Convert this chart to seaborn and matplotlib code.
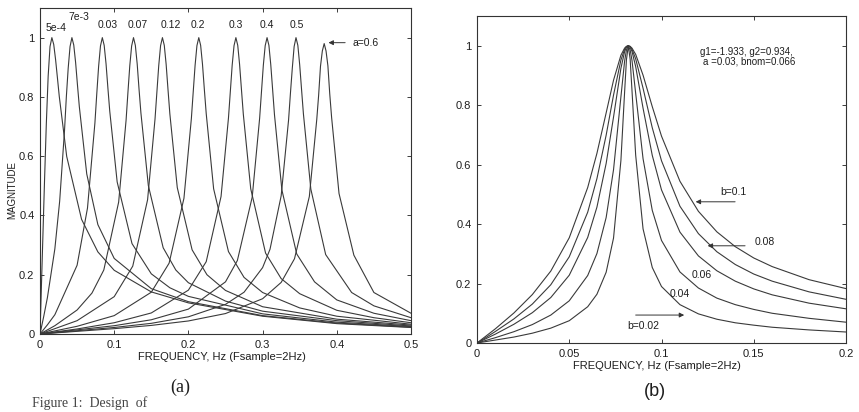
import matplotlib
matplotlib.use("Agg")
import matplotlib.pyplot as plt
import pandas as pd
import seaborn as sns

# ---- panel (a): resonator magnitude for several "a" values
a_labels = ["5e-4", "7e-3", "0.03", "0.07", "0.12", "0.2", "0.3", "0.4", "0.5", "0.6"]
a_freq = [
    [0, .003, .006, .0085, .011, .0135, .016, .0185, .021, .0235, .026, .036, .056, .078, .1, .15, .2, .3, .4, .5],
    [0, .005, .01, .02, .0265, .033, .0355, .038, .0405, .043, .0455, .048, .0505, .053, .063, .078, .1, .15, .2, .3, .4, .5],
    [0, .01, .02, .05, .064, .074, .0765, .079, .0815, .084, .0865, .089, .0915, .094, .104, .124, .15, .175, .2, .3, .4, .5],
    [0, .02, .05, .07, .086, .106, .116, .1185, .121, .1235, .126, .1285, .131, .1335, .136, .146, .166, .183, .2, .25, .3, .4, .5],
    [0, .05, .1, .125, .145, .155, .1575, .16, .1625, .165, .1675, .17, .1725, .175, .185, .205, .225, .25, .3, .4, .5],
    [0, .05, .1, .15, .174, .194, .204, .2065, .209, .2115, .214, .2165, .219, .2215, .224, .234, .254, .275, .3, .35, .4, .5],
    [0, .05, .1, .15, .2, .224, .244, .254, .2565, .259, .2615, .264, .2665, .269, .2715, .274, .284, .304, .325, .35, .4, .45, .5],
    [0, .1, .15, .2, .25, .266, .286, .296, .2985, .301, .3035, .306, .3085, .311, .3135, .316, .326, .346, .37, .4, .45, .5],
    [0, .1, .15, .2, .25, .275, .3, .31, .325, .335, .3375, .34, .3425, .345, .3475, .35, .3525, .355, .365, .385, .42, .45, .5],
    [0, .1, .15, .2, .25, .3, .325, .343, .363, .373, .3755, .378, .3805, .383, .3855, .388, .3905, .393, .403, .423, .45, .5],
]
a_mag = [
    [0, .254, .509, .708, .87, .97, 1.0, .977, .926, .864, .801, .599, .387, .277, .215, .142, .105, .06, .035, .022],
    [0, .059, .123, .287, .448, .685, .80, .897, .97, 1, .975, .916, .84, .767, .540, .369, .255, .153, .109, .062, .037, .023],
    [0, .031, .065, .232, .425, .712, .81, .903, .972, 1, .974, .912, .83, .752, .513, .305, .203, .156, .127, .068, .04, .025],
    [0, .028, .081, .138, .216, .445, .721, .815, .905, .972, 1, .974, .911, .825, .746, .501, .291, .216, .173, .111, .077, .045, .027],
    [0, .045, .126, .229, .453, .725, .815, .905, .973, 1, .974, .910, .825, .743, .494, .284, .200, .147, .092, .05, .03],
    [0, .026, .062, .141, .239, .458, .727, .817, .906, .973, 1, .974, .910, .825, .744, .490, .278, .191, .140, .088, .06, .033],
    [0, .017, .038, .071, .148, .244, .464, .729, .818, .907, .973, 1, .974, .909, .825, .742, .490, .273, .187, .136, .08, .055, .038],
    [0, .028, .048, .084, .176, .248, .462, .728, .818, .907, .973, 1, .974, .909, .825, .740, .486, .270, .176, .115, .07, .045],
    [0, .022, .036, .058, .100, .141, .224, .286, .466, .722, .812, .896, .97, 1, .974, .908, .825, .743, .489, .268, .14, .095, .055],
    [0, .018, .029, .044, .069, .119, .174, .254, .464, .724, .805, .903, .955, .98, .955, .905, .81, .731, .474, .266, .14, .07],
]
# label positions above the peaks (data coords)
a_label_x = [.0081, .0527, .0912, .131, .176, .213, .264, .306, .346]
a_label_y = [1.034, 1.071, 1.044, 1.044, 1.044, 1.044, 1.044, 1.044, 1.044]

# ---- panel (b): fixed a=0.03, several b values
b_labels = ["0.02", "0.04", "0.06", "0.08", "0.1"]
b_freq = [0, .005, .01, .02, .03, .04, .05, .06, .065, .07, .074, .078, .08, .081, .082,
          .083, .084, .086, .09, .095, .1, .11, .12, .13, .14, .15, .16, .18, .2]
b_mag = [
    [0, .005, .010, .020, .033, .050, .075, .122, .164, .238, .353, .614, .844, .953, 1,
     .955, .850, .632, .384, .254, .190, .129, .098, .080, .068, .060, .053, .044, .037],
    [0, .009, .018, .038, .062, .094, .142, .227, .301, .422, .583, .828, .948, .986, 1,
     .986, .951, .840, .620, .446, .345, .239, .185, .151, .129, .113, .100, .083, .070],
    [0, .015, .030, .063, .102, .153, .228, .355, .457, .604, .760, .924, .980, .995, 1,
     .995, .981, .930, .790, .631, .515, .373, .293, .243, .208, .182, .162, .134, .115],
    [0, .019, .039, .081, .131, .196, .290, .440, .553, .699, .834, .952, .988, .997, 1,
     .997, .988, .956, .857, .724, .613, .460, .368, .307, .264, .232, .208, .172, .147],
    [0, .024, .048, .101, .163, .242, .354, .523, .638, .774, .884, .968, .992, .998, 1,
     .998, .992, .971, .901, .795, .696, .544, .443, .374, .324, .286, .257, .213, .183],
]

line_col = "#3a3a3a"
txt_col = "#1e1e1e"

sns.set_theme(style="ticks")
plt.rcParams["font.family"] = ["Liberation Sans", "DejaVu Sans"]

# long tables for seaborn
rows = []
for lab, fx, my in zip(a_labels, a_freq, a_mag):
    for f, m in zip(fx, my):
        rows.append({"a": lab, "freq": f, "mag": m})
df_a = pd.DataFrame(rows)

rows = []
for lab, my in zip(b_labels, b_mag):
    for f, m in zip(b_freq, my):
        rows.append({"b": lab, "freq": f, "mag": m})
df_b = pd.DataFrame(rows)

W, H = 859, 412
fig = plt.figure(figsize=(W / 100, H / 100), dpi=100)
fig.patch.set_facecolor("white")
ax_a = fig.add_axes([40 / W, (H - 334) / H, (411 - 40) / W, (334 - 8) / H])
ax_b = fig.add_axes([477 / W, (H - 343) / H, (846 - 477) / W, (343 - 16) / H])

sns.lineplot(data=df_a, x="freq", y="mag", units="a", estimator=None,
             color=line_col, lw=0.8, legend=False, ax=ax_a)
sns.lineplot(data=df_b, x="freq", y="mag", units="b", estimator=None,
             color=line_col, lw=0.8, legend=False, ax=ax_b)

def style_axes(ax, xticks):
    ax.set_xlabel("")
    ax.set_ylabel("")
    ax.set_ylim(0, 1.1)
    ax.set_xlim(xticks[0], xticks[-1])
    ax.set_xticks(xticks)
    ax.set_xticklabels([f"{v:g}" for v in xticks])
    yt = [0, .2, .4, .6, .8, 1]
    ax.set_yticks(yt)
    ax.set_yticklabels([f"{v:g}" for v in yt])
    ax.tick_params(direction="in", top=True, right=True, length=3, width=0.6,
                   labelsize=8, colors=txt_col, pad=4)
    for sp in ax.spines.values():
        sp.set_visible(True)
        sp.set_linewidth(0.8)
        sp.set_color("#333333")
    ax.set_facecolor("white")

style_axes(ax_a, [0, .1, .2, .3, .4, .5])
style_axes(ax_b, [0, .05, .1, .15, .2])

arrow = dict(arrowstyle="-|>", lw=0.7, color="#333333", mutation_scale=7)

# annotations panel (a)
for lab, x, y in zip(a_labels[:-1], a_label_x, a_label_y):
    ha = "left" if lab == "5e-4" else "center"
    ax_a.text(x, y, lab, fontsize=7.5, ha=ha, va="center", color=txt_col)
ax_a.annotate("", xy=(.385, .983), xytext=(.415, .983), arrowprops=arrow)
ax_a.text(.4216, .983, "a=0.6", fontsize=7.5, ha="left", va="center", color=txt_col)

# annotations panel (b)
ax_b.text(.1208, .98, "g1=-1.933, g2=0.934,", fontsize=7, ha="left", va="center", color=txt_col)
ax_b.text(.1224, .946, "a =0.03, bnom=0.066", fontsize=7, ha="left", va="center", color=txt_col)
ax_b.text(.1316, .508, "b=0.1", fontsize=7.5, ha="left", va="center", color=txt_col)
ax_b.annotate("", xy=(.117, .475), xytext=(.1414, .475), arrowprops=arrow)
ax_b.text(.1506, .34, "0.08", fontsize=7.5, ha="left", va="center", color=txt_col)
ax_b.annotate("", xy=(.1235, .327), xytext=(.1468, .327), arrowprops=arrow)
ax_b.text(.1165, .229, "0.06", fontsize=7.5, ha="left", va="center", color=txt_col)
ax_b.text(.1045, .165, "0.04", fontsize=7.5, ha="left", va="center", color=txt_col)
ax_b.text(.0813, .057, "b=0.02", fontsize=7.5, ha="left", va="center", color=txt_col)
ax_b.annotate("", xy=(.1138, .094), xytext=(.0845, .094), arrowprops=arrow)

# axis titles and captions
fig.text(12 / W, 1 - 190 / H, "MAGNITUDE", rotation=90, fontsize=7,
         ha="center", va="center", color=txt_col)
fig.text(222 / W, 1 - 357 / H, "FREQUENCY, Hz (Fsample=2Hz)", fontsize=8,
         ha="center", va="center", color=txt_col)
fig.text(657 / W, 1 - 366 / H, "FREQUENCY, Hz (Fsample=2Hz)", fontsize=8,
         ha="center", va="center", color=txt_col)
fig.text(180 / W, 1 - 387 / H, "(a)", fontsize=13, ha="center", va="center",
         color=txt_col, family=["Liberation Serif", "DejaVu Serif"])
fig.text(655 / W, 1 - 392 / H, "(b)", fontsize=13, ha="center", va="center", color=txt_col)
fig.text(32 / W, 1 - 410 / H, "Figure 1:  Design  of", fontsize=10, ha="left", va="bottom",
         color="#444444", family=["Liberation Serif", "DejaVu Serif"])

fig.savefig("out.png", dpi=100, facecolor="white")
